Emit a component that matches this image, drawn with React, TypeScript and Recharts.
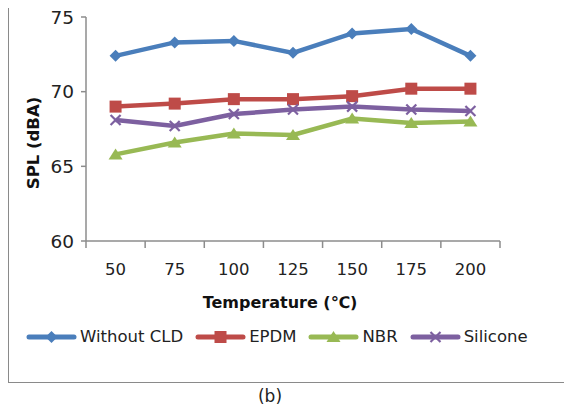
import React from "react";
import { LineChart, Line, XAxis, YAxis } from "recharts";

const temps = ["50", "75", "100", "125", "150", "175", "200"];
const withoutCld = [72.4, 73.3, 73.4, 72.6, 73.9, 74.2, 72.4];
const epdm = [69.0, 69.2, 69.5, 69.5, 69.7, 70.2, 70.2];
const nbr = [65.8, 66.6, 67.2, 67.1, 68.2, 67.9, 68.0];
const silicone = [68.1, 67.7, 68.5, 68.8, 69.0, 68.8, 68.7];
const yTicks = [60, 65, 70, 75];

const FONT = "'DejaVu Sans', sans-serif";
const AXIS = "#8c8c8c";

const SERIES = [
  { key: "Without CLD", data: withoutCld, color: "#4A7EBB", shape: "diamond" },
  { key: "EPDM", data: epdm, color: "#BE4B48", shape: "square" },
  { key: "NBR", data: nbr, color: "#98B954", shape: "triangle" },
  { key: "Silicone", data: silicone, color: "#7D60A0", shape: "x" },
];

// points sit in the middle of each category slot, ticks on the slot edges
const chartData = temps.map((t, i) => {
  const row: Record<string, any> = { pos: i + 0.5, temp: t };
  SERIES.forEach((s) => {
    row[s.key] = s.data[i];
  });
  return row;
});

const xTicks: number[] = [];
for (let i = 0; i <= temps.length * 2; i++) xTicks.push(i / 2);

const Marker = ({ cx, cy, shape, color }: any) => {
  if (cx == null || cy == null) return null;
  if (shape === "diamond") {
    const r = 6;
    return <polygon points={`${cx},${cy - r} ${cx + r},${cy} ${cx},${cy + r} ${cx - r},${cy}`} fill={color} />;
  }
  if (shape === "square") {
    return <rect x={cx - 6} y={cy - 6} width={12} height={12} fill={color} />;
  }
  if (shape === "triangle") {
    return <polygon points={`${cx},${cy - 6} ${cx + 7},${cy + 5} ${cx - 7},${cy + 5}`} fill={color} />;
  }
  const r = 5;
  return (
    <g stroke={color} strokeWidth={2.2}>
      <line x1={cx - r} y1={cy - r} x2={cx + r} y2={cy + r} />
      <line x1={cx - r} y1={cy + r} x2={cx + r} y2={cy - r} />
    </g>
  );
};

const XTick = ({ x, y, payload }: any) => {
  const v = payload.value;
  if (Number.isInteger(v)) {
    return <line x1={x} y1={y} x2={x} y2={y + 7} stroke={AXIS} strokeWidth={1.5} />;
  }
  return (
    <text x={x} y={y + 34} textAnchor="middle" fontFamily={FONT} fontSize={16.5} fill="#222">
      {temps[Math.floor(v)]}
    </text>
  );
};

const LegendIcon = ({ shape, color }: any) => (
  <svg width={51} height={14} style={{ display: "block" }}>
    <line x1={3} y1={7} x2={48} y2={7} stroke={color} strokeWidth={5} strokeLinecap="round" />
    <Marker cx={25.5} cy={7} shape={shape} color={color} />
  </svg>
);

export default function App() {
  return (
    <div style={{ position: "relative", margin: -8, width: 572, height: 415, background: "#fff", overflow: "hidden" }}>
      <div
        style={{
          position: "absolute",
          left: 8,
          top: 4,
          width: 600,
          height: 377,
          border: "1.5px solid #8a8a8a",
        }}
      />
      <div style={{ position: "absolute", left: 0, top: 0 }}>
        <LineChart width={572} height={320} data={chartData} margin={{ top: 17, right: 72, bottom: 0, left: 0 }}>
          <XAxis
            type="number"
            dataKey="pos"
            domain={[0, temps.length]}
            ticks={xTicks}
            interval={0}
            tickSize={0}
            tickMargin={0}
            tickLine={false}
            tick={<XTick />}
            height={79}
            stroke={AXIS}
            strokeWidth={1.5}
            label={(props: any) => {
              const vb = props.viewBox;
              return (
                <text x={vb.x + vb.width / 2 - 13} y={vb.y + 67} textAnchor="middle" fontFamily={FONT} fontSize={16} fontWeight="bold" fill="#111">
                  Temperature (℃)
                </text>
              );
            }}
          />
          <YAxis
            domain={[60, 75]}
            ticks={yTicks}
            width={86}
            tickSize={5}
            tickMargin={7}
            stroke={AXIS}
            strokeWidth={1.5}
            tick={{ fontFamily: FONT, fontSize: 18.5, fill: "#222" }}
            label={(props: any) => {
              const vb = props.viewBox;
              return (
                <text
                  x={33}
                  y={vb.y + vb.height / 2 + 14}
                  transform={`rotate(-90, 33, ${vb.y + vb.height / 2 + 14})`}
                  textAnchor="middle"
                  dominantBaseline="central"
                  fontFamily={FONT}
                  fontSize={16.5}
                  fontWeight="bold"
                  fill="#111"
                >
                  SPL (dBA)
                </text>
              );
            }}
          />
          {SERIES.map((s) => (
            <Line
              key={s.key}
              dataKey={s.key}
              stroke={s.color}
              strokeWidth={4.5}
              dot={(p: any) => <Marker key={`${s.key}-${p.index}`} cx={p.cx} cy={p.cy} shape={s.shape} color={s.color} />}
              activeDot={false}
              isAnimationActive={false}
            />
          ))}
        </LineChart>
      </div>
      <div
        style={{
          position: "absolute",
          left: 26,
          top: 327,
          display: "flex",
          alignItems: "center",
          fontFamily: FONT,
          fontSize: 16.5,
          color: "#222",
        }}
      >
        {SERIES.map((s) => (
          <div key={s.key} style={{ display: "flex", alignItems: "center", marginRight: 12 }}>
            <LegendIcon shape={s.shape} color={s.color} />
            <span style={{ marginLeft: 3 }}>{s.key}</span>
          </div>
        ))}
      </div>
      <div
        style={{
          position: "absolute",
          left: 0,
          width: 540,
          top: 386,
          textAlign: "center",
          fontFamily: FONT,
          fontSize: 17,
          color: "#222",
        }}
      >
        (b)
      </div>
    </div>
  );
}
